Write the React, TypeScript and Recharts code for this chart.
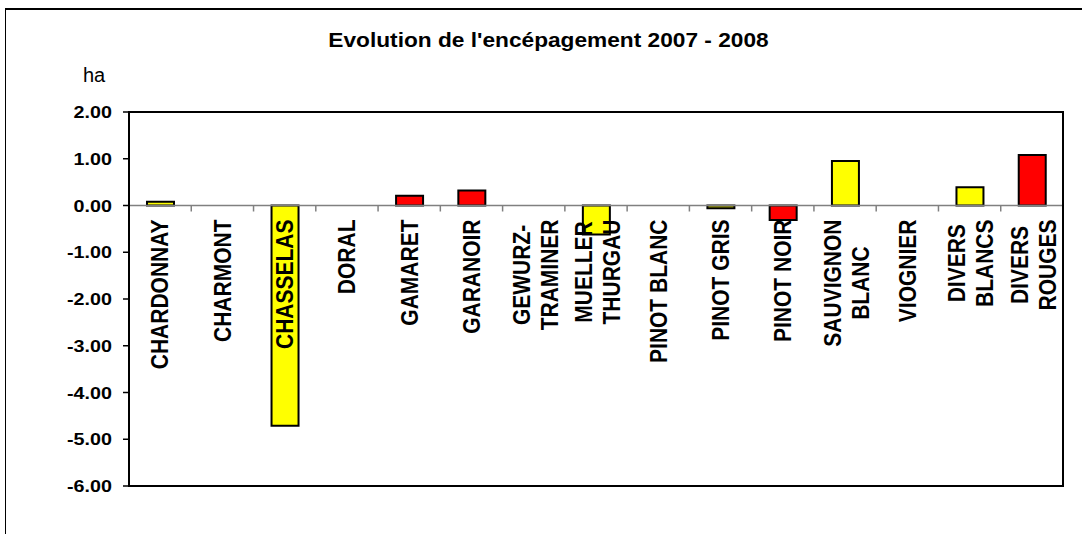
import React from "react";
import { BarChart, Bar, XAxis, YAxis, Cell, ReferenceLine } from "recharts";

// cépages (line breaks as on the original axis)
const cepages = [
  "CHARDONNAY", "CHARMONT", "CHASSELAS", "DORAL", "GAMARET", "GARANOIR", "GEWURZ-\nTRAMINER",
  "MUELLER\nTHURGAU", "PINOT BLANC", "PINOT GRIS", "PINOT NOIR", "SAUVIGNON\nBLANC", "VIOGNIER",
  "DIVERS\nBLANCS", "DIVERS\nROUGES",
];
// evolution 2007 - 2008, ha
const evolution = [0.08, 0, -4.71, 0, 0.21, 0.32, 0, -0.62, 0, -0.06, -0.31, 0.95, 0, 0.39, 1.08];
const couleur = ["b", "b", "b", "b", "r", "r", "b", "b", "b", "b", "r", "b", "b", "b", "r"];
const yTicks = [2, 1, 0, -1, -2, -3, -4, -5, -6];
const Y_MIN = -6, Y_MAX = 2;

const data = cepages.map((label, i) => ({ label, value: evolution[i], type: couleur[i] }));

const FONT = "Arial, 'Liberation Sans', sans-serif";
const W = 1082, H = 534;
const XH = 30;
const M = { top: 112, right: 19, bottom: 48 - XH, left: 0 };
const YW = 129;
const PLOT_W = W - M.left - YW - M.right;
const PLOT_H = H - M.top - M.bottom - XH;
const BAND = PLOT_W / cepages.length;
const ZERO_Y = M.top + (Y_MAX / (Y_MAX - Y_MIN)) * PLOT_H;
const LBL_FS = 21;

let ctx: CanvasRenderingContext2D | null = null;
function textW(s: string) {
  if (!ctx) ctx = document.createElement("canvas").getContext("2d");
  if (!ctx) return s.length * LBL_FS * 0.68;
  ctx.font = `bold ${LBL_FS}px ${FONT}`;
  return ctx.measureText(s).width;
}

function CatTick(p: any) {
  const { x, payload, index } = p;
  const cx = x;
  const lines = String(payload.value).split("\n");
  const maxW = Math.max(...lines.map(textW));
  const cy = ZERO_Y + 14 + maxW / 2;
  const n = lines.length;
  return (
    <g>
      {index > 0 && <line x1={cx - BAND / 2} x2={cx - BAND / 2} y1={ZERO_Y} y2={ZERO_Y + 6} stroke="#808080" strokeWidth={1.5} />}
      {lines.map((s, i) => {
        const lx = cx + (i - (n - 1) / 2) * 28 + (n > 1 ? 1.5 : 0);
        return (
          <text key={i} transform={`translate(${lx},${cy}) rotate(-90) scale(1,1.1)`} textAnchor="middle" dy="0.36em"
            fontFamily={FONT} fontWeight="bold" fontSize={LBL_FS} fill="#000">{s}</text>
        );
      })}
    </g>
  );
}

function YTick(p: any) {
  const { x, y, payload } = p;
  return (
    <text transform={`translate(${x},${y}) scale(1.16,1)`} textAnchor="end" dy="0.36em"
      fontFamily={FONT} fontWeight="bold" fontSize={17} fill="#000">{Number(payload.value).toFixed(2)}</text>
  );
}

export default function App() {
  return (
    <div style={{ position: "absolute", left: 0, top: 0, width: W, height: H, overflow: "hidden", background: "#fff", fontFamily: FONT }}>
      <div style={{ position: "absolute", left: 5, top: 8, width: 1200, height: 700, borderTop: "2px solid #000", borderLeft: "1px solid #000" }} />
      <div style={{ position: "absolute", left: 0, top: 29, width: 1097, textAlign: "center", fontSize: 21, lineHeight: "21px", fontWeight: "bold", transform: "scaleX(1.08)" }}>
        Evolution de l'encépagement 2007 - 2008
      </div>
      <div style={{ position: "absolute", left: 83, top: 65, fontSize: 20, lineHeight: "20px" }}>ha</div>
      <div style={{ position: "absolute", left: 0, top: 0 }}>
        <BarChart width={W} height={H} data={data} margin={M}>
          <XAxis dataKey="label" height={XH} axisLine={false} tickLine={false} tick={<CatTick />} interval={0} />
          <YAxis domain={[Y_MIN, Y_MAX]} ticks={yTicks} width={YW} axisLine={false} tickSize={6} tickMargin={11}
            tickLine={{ stroke: "#000", strokeWidth: 1.5 }} tick={<YTick />} interval={0} />
          <ReferenceLine y={0} stroke="#808080" strokeWidth={1.5} />
          <Bar dataKey="value" barSize={27} stroke="#000" strokeWidth={2} isAnimationActive={false}>
            {data.map((d, i) => <Cell key={i} fill={d.type === "r" ? "#FF0000" : "#FFFF00"} />)}
          </Bar>
        </BarChart>
      </div>
      <div style={{ position: "absolute", left: M.left + YW - 1, top: M.top - 1, width: PLOT_W + 2, height: PLOT_H + 2, border: "2px solid #000", boxSizing: "border-box", pointerEvents: "none" }} />
    </div>
  );
}
